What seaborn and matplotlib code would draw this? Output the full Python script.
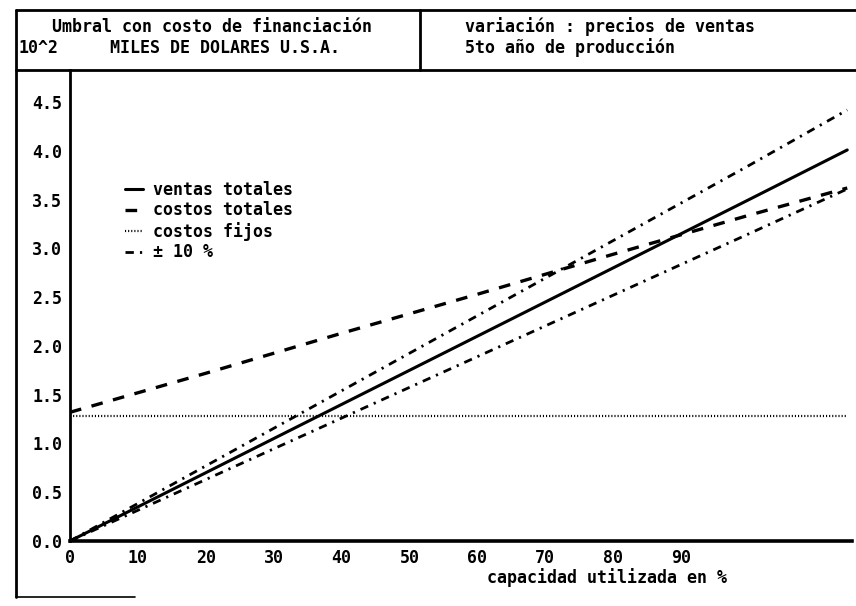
import numpy as np
import pandas as pd
import matplotlib
matplotlib.use('Agg')
import matplotlib.pyplot as plt
import seaborn as sns

# capacity used (%) and values in 10^2 thousand USD
capacidad = [0, 20, 40, 60, 80, 100, 114.5]
ventas_totales = [0.0, 0.70, 1.40, 2.10, 2.80, 3.50, 4.01]
costos_totales = [1.32, 1.72, 2.13, 2.53, 2.94, 3.34, 3.62]
costos_fijos = [1.28, 1.28, 1.28, 1.28, 1.28, 1.28, 1.28]
mas_10 = [0.0, 0.77, 1.54, 2.31, 3.08, 3.85, 4.42]
menos_10 = [0.0, 0.63, 1.26, 1.89, 2.52, 3.15, 3.61]

xticks = [0, 10, 20, 30, 40, 50, 60, 70, 80, 90]
xticklabels = ['0', '10', '20', '30', '40', '50', '60', '70', '80', '90']
yticks = [0.0, 0.5, 1.0, 1.5, 2.0, 2.5, 3.0, 3.5, 4.0, 4.5]
yticklabels = ['0.0', '0.5', '1.0', '1.5', '2.0', '2.5', '3.0', '3.5', '4.0', '4.5']

df = pd.DataFrame({'capacidad': capacidad, 'ventas': ventas_totales,
                   'costos': costos_totales, 'fijos': costos_fijos,
                   'mas': mas_10, 'menos': menos_10})

sns.set_style('white')
plt.rcParams['font.family'] = ['DejaVu Sans Mono']
plt.rcParams['font.weight'] = 'bold'
plt.rcParams['text.color'] = 'black'
plt.rcParams['axes.labelcolor'] = 'black'
plt.rcParams['xtick.color'] = 'black'
plt.rcParams['ytick.color'] = 'black'

W, H = 856, 606
fig = plt.figure(figsize=(W / 100, H / 100), dpi=100)
ax = fig.add_axes([70 / W, 1 - 541 / H, (852 - 70) / W, (541 - 70) / H])

sns.lineplot(data=df, x='capacidad', y='ventas', ax=ax, color='black', lw=2.2,
             label='ventas totales')
sns.lineplot(data=df, x='capacidad', y='costos', ax=ax, color='black', lw=2.4,
             label='costos totales')
ax.lines[-1].set_dashes([3.5, 3.2])
sns.lineplot(data=df, x='capacidad', y='fijos', ax=ax, color='black', lw=1.6,
             label='costos fijos')
ax.lines[-1].set_dashes([0.5, 0.9])
sns.lineplot(data=df, x='capacidad', y='mas', ax=ax, color='black', lw=2.0,
             label='± 10 %')
ax.lines[-1].set_dashes([3, 2.2, 0.8, 2.2])
sns.lineplot(data=df, x='capacidad', y='menos', ax=ax, color='black', lw=2.0)
ax.lines[-1].set_dashes([3, 2.2, 0.8, 2.2])

ax.set_xlim(0, 115.2)
ax.set_ylim(0, 4.83)
ax.set_xticks(xticks)
ax.set_xticklabels(xticklabels, fontsize=12, fontweight='bold')
ax.set_yticks(yticks)
ax.set_yticklabels(yticklabels, fontsize=12, fontweight='bold')
ax.tick_params(axis='both', direction='inout', length=5, width=1.5, color='black', pad=3)
ax.set_ylabel('')
ax.set_xlabel('capacidad utilizada en %', fontsize=12, fontweight='bold')
ax.xaxis.set_label_coords((607 - 70) / (852 - 70), -(578 - 541) / (541 - 70))
ax.xaxis.label.set_va('center')

for s in ['top', 'right']:
    ax.spines[s].set_visible(False)
ax.spines['left'].set_linewidth(2)
ax.spines['bottom'].set_linewidth(2.6)
ax.spines['left'].set_color('black')
ax.spines['bottom'].set_color('black')

leg = ax.legend(loc='upper left', bbox_to_anchor=((110 - 70) / 782, 1 - (166 - 70) / 471),
                frameon=False, handlelength=1.1, handletextpad=0.6, labelspacing=0.15,
                prop={'size': 12, 'weight': 'bold', 'family': 'DejaVu Sans Mono'})

# header box and outer frame
def fline(x0, y0, x1, y1, lw=2):
    fig.add_artist(plt.Line2D([x0 / W, x1 / W], [1 - y0 / H, 1 - y1 / H],
                              transform=fig.transFigure, color='black', lw=lw))

fline(16, 10, 856, 10)
fline(16, 70, 856, 70)
fline(16, 10, 16, 597)
fline(420, 10, 420, 70)
fline(16, 597, 135, 597, lw=1.2)

def ftext(x, y, s, ha='left'):
    fig.text(x / W, 1 - y / H, s, ha=ha, va='center', fontsize=12, fontweight='bold',
             family='DejaVu Sans Mono', color='black')

ftext(52, 27, 'Umbral con costo de financiación')
ftext(18, 48, '10^2')
ftext(110, 48, 'MILES DE DOLARES U.S.A.')
ftext(465, 27, 'variación : precios de ventas')
ftext(465, 48, '5to año de producción')

fig.savefig('out.png', dpi=100)
